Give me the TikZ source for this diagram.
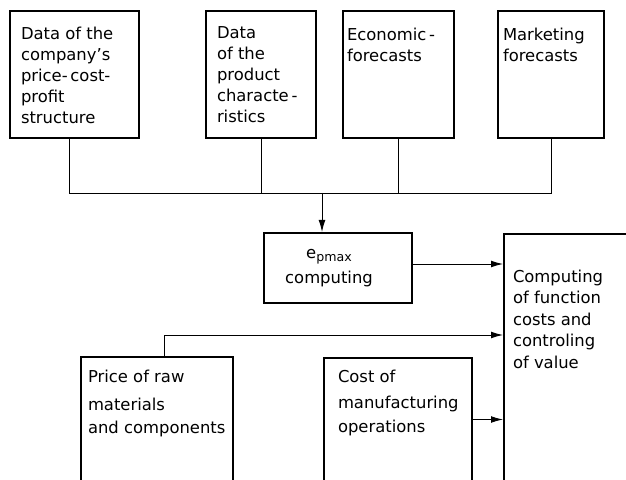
\documentclass[tikz,border=0pt]{standalone}
\usepackage{fontspec}
\setmainfont{DejaVu Sans}
\usetikzlibrary{arrows.meta, positioning}

\begin{document}
\begin{tikzpicture}[x=0.5pt, y=-0.5pt, >={Latex[length=6pt,width=3.4pt]},
    box/.style={draw, line width=1pt, anchor=north west, inner sep=0pt},
    txt/.style={anchor=north west, align=left, inner sep=0pt, outer sep=0pt,
        font=\fontsize{8.2}{10.5}\selectfont},
    link/.style={line width=0.45pt}]
    \clip (0,0) rectangle (626,480);

    \node [box, minimum width=64.5pt, minimum height=63.5pt,
        label={[txt, xshift=6pt, yshift=-8.5pt]north west:{Data of the\\company's\\price-\,cost-\\profit\\structure}}]
        (company) at (9,10) {};
    \node [box, minimum width=55pt, minimum height=63.5pt,
        label={[txt, xshift=6pt, yshift=-8.5pt]north west:{Data\\of the\\product\\characte\,-\\ristics}}]
        (product) at (205,10) {};
    \node [box, minimum width=55.5pt, minimum height=63.5pt,
        label={[txt, xshift=2.5pt, yshift=-9pt]north west:{Economic\,-\\forecasts}}]
        (economic) at (342,10) {};
    \node [box, minimum width=53pt, minimum height=63.5pt,
        label={[txt, xshift=3pt, yshift=-9pt]north west:{Marketing\\forecasts}}]
        (marketing) at (497,10) {};

    \node [box, minimum width=74pt, minimum height=35pt,
        label={[txt, anchor=center, align=center, xshift=-4.5pt]center:{e\raisebox{-1.5pt}{\fontsize{6.3}{6}\selectfont pmax}\\[2pt]computing}}]
        (epmax) at (263,232) {};
    \node [box, minimum width=70pt, minimum height=123.5pt,
        label={[txt, xshift=5pt, yshift=-18.5pt, font=\fontsize{8.2}{10.75}\selectfont]north west:{Computing\\of function\\costs and\\controling\\of value}}]
        (value) at (503,233) {};
    \node [box, minimum width=76pt, minimum height=62pt,
        label={[txt, xshift=4pt, yshift=-7pt]north west:{Price of raw\\[3.5pt]materials\\[1pt]and components}}]
        (price) at (80,356) {};
    \node [box, minimum width=74pt, minimum height=61.5pt,
        label={[txt, xshift=7.5pt, yshift=-6.5pt]north west:{Cost of\\[2.5pt]manufacturing\\[1.5pt]operations}}]
        (cost) at (323,357) {};

    \coordinate (bus) at (322,193);
    \coordinate (rawlevel) at (0,335);

    \draw [link] ([xshift=-2.75pt]company.south) |- (marketing.south |- bus) -- (marketing.south);
    \draw [link] (product.south) -- (product.south |- bus);
    \draw [link] (economic.south) -- (economic.south |- bus);
    \draw [link, ->] (bus) -- (bus |- epmax.north);

    \draw [link, ->] ([yshift=2pt]epmax.east) -- ([yshift=2pt]epmax.east -| value.west);
    \draw [link, ->] ([xshift=3.5pt]price.north) |- (value.west |- rawlevel);
    \draw [link, ->] (cost.east) -- (cost.east -| value.west);
\end{tikzpicture}
\end{document}
